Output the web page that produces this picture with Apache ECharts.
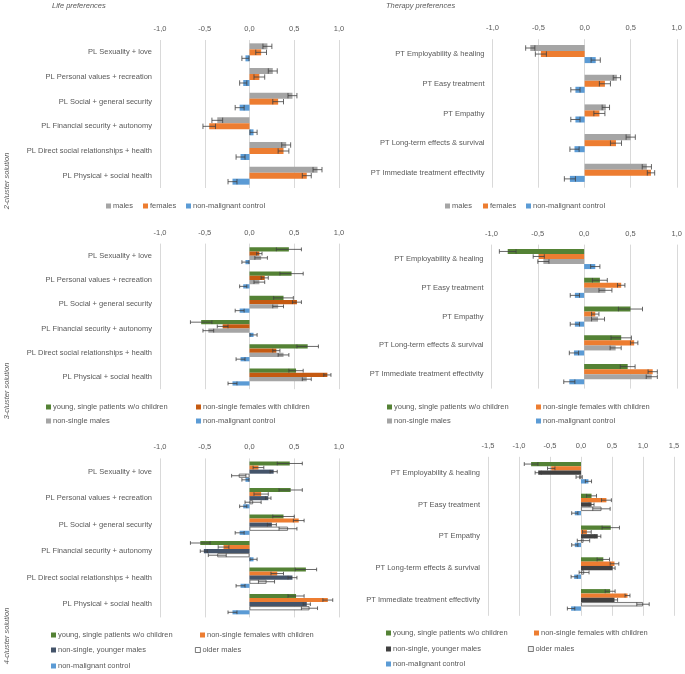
<!DOCTYPE html>
<html>
<head>
<meta charset="utf-8">
<script src="https://cdn.jsdelivr.net/npm/echarts@6/dist/echarts.min.js"></script>
<style>html,body{margin:0;padding:0;background:#fff}#c{width:685px;height:674px}</style>
</head>
<body>
<div id="c"></div>
<script>
// ---------- categories ----------
const lifeCats = ['PL Sexuality + love','PL Personal values + recreation','PL Social + general security','PL Financial security + autonomy','PL Direct social relationships + health','PL Physical + social health'];
const therapyCats = ['PT Employability & healing','PT Easy treatment','PT Empathy','PT Long-term effects & survival','PT Immediate treatment effectivity'];

// ---------- 2-cluster, life ----------
const c2LifeMales = [0.20, 0.26, 0.48, -0.36, 0.41, 0.76];
const c2LifeMalesErr = [0.05, 0.05, 0.05, 0.06, 0.05, 0.05];
const c2LifeFemales = [0.13, 0.11, 0.32, -0.45, 0.38, 0.64];
const c2LifeFemalesErr = [0.06, 0.06, 0.06, 0.07, 0.06, 0.05];
const lifeControl = [-0.045, -0.07, -0.11, 0.045, -0.10, -0.19];
const lifeControlErr = [0.04, 0.04, 0.05, 0.04, 0.05, 0.05];

// ---------- 2-cluster, therapy ----------
const c2TherMales = [-0.59, 0.35, 0.23, 0.50, 0.675];
const c2TherMalesErr = [0.05, 0.04, 0.04, 0.05, 0.05];
const c2TherFemales = [-0.475, 0.22, 0.16, 0.34, 0.72];
const c2TherFemalesErr = [0.06, 0.06, 0.06, 0.06, 0.04];
const therControl = [0.12, -0.10, -0.10, -0.11, -0.16];
const therControlErr = [0.05, 0.05, 0.05, 0.05, 0.06];

// ---------- 3-cluster, life ----------
const c3LifeYoung = [0.44, 0.47, 0.38, -0.54, 0.65, 0.52];
const c3LifeYoungErr = [0.14, 0.13, 0.11, 0.12, 0.12, 0.08];
const c3LifeFem = [0.11, 0.17, 0.53, -0.30, 0.30, 0.87];
const c3LifeFemErr = [0.03, 0.04, 0.05, 0.06, 0.04, 0.04];
const c3LifeMales = [0.13, 0.11, 0.32, -0.46, 0.38, 0.64];
const c3LifeMalesErr = [0.07, 0.06, 0.06, 0.06, 0.06, 0.05];

// ---------- 3-cluster, therapy ----------
const c3TherYoung = [-0.825, 0.17, 0.50, 0.40, 0.47];
const c3TherYoungErr = [0.09, 0.08, 0.13, 0.11, 0.08];
const c3TherFem = [-0.49, 0.40, 0.12, 0.54, 0.74];
const c3TherFemErr = [0.06, 0.04, 0.04, 0.04, 0.05];
const c3TherMales = [-0.44, 0.23, 0.15, 0.34, 0.73];
const c3TherMalesErr = [0.06, 0.07, 0.07, 0.06, 0.06];

// ---------- 4-cluster, life ----------
const c4LifeYoung = [0.45, 0.46, 0.38, -0.55, 0.63, 0.52];
const c4LifeYoungErr = [0.14, 0.13, 0.12, 0.11, 0.12, 0.09];
const c4LifeFem = [0.10, 0.13, 0.55, -0.29, 0.31, 0.875];
const c4LifeFemErr = [0.06, 0.08, 0.06, 0.06, 0.07, 0.055];
const c4LifeYM = [0.27, 0.21, 0.25, -0.51, 0.48, 0.64];
const c4LifeYMErr = [0.04, 0.03, 0.05, 0.04, 0.05, 0.04];
const c4LifeOM = [-0.12, 0.04, 0.43, -0.36, 0.19, 0.67];
const c4LifeOMErr = [0.08, 0.09, 0.10, 0.10, 0.09, 0.09];

// ---------- 4-cluster, therapy ----------
const c4TherYoung = [-0.805, 0.17, 0.48, 0.36, 0.47];
const c4TherYoungErr = [0.11, 0.08, 0.14, 0.10, 0.08];
const c4TherFem = [-0.48, 0.41, 0.095, 0.54, 0.75];
const c4TherFemErr = [0.06, 0.08, 0.07, 0.07, 0.04];
const c4TherYM = [-0.69, 0.17, 0.27, 0.51, 0.54];
const c4TherYMErr = [0.05, 0.04, 0.05, 0.04, 0.05];
const c4TherOM = [-0.03, 0.33, 0.04, 0.05, 1.0];
const c4TherOMErr = [0.05, 0.14, 0.10, 0.08, 0.10];

// ---------- series names ----------
const N_MALES = 'males', N_FEMALES = 'females', N_CTRL = 'non-malignant control';
const N_YOUNG = 'young, single patients w/o children';
const N_FEMCH = 'non-single females with children';
const N_NSM = 'non-single males';
const N_NSYM = 'non-single, younger males';
const N_OM = 'older males';

const FONT = 'Liberation Sans';
const FS = 7.5;
const TXT = '#595959';
const GREEN = '#548235', ORANGE = '#ED7D31', DKORANGE = '#C55A11', GRAY = '#A5A5A5', BLUE = '#5B9BD5', NAVY = '#44546A', DKGRAY = '#404040';

const panels = [
  { cats: lifeCats, min: -1, max: 1, grid: {left: 160, top: 40, width: 179, height: 148}, gap: 0.27,
    groups: [
      {name: N_MALES, v: c2LifeMales, e: c2LifeMalesErr, color: GRAY},
      {name: N_FEMALES, v: c2LifeFemales, e: c2LifeFemalesErr, color: ORANGE},
      {name: N_CTRL, v: lifeControl, e: lifeControlErr, color: BLUE}],
    legend: [[N_MALES, 106, 206], [N_FEMALES, 143, 206], [N_CTRL, 186, 206]] },
  { cats: therapyCats, min: -1, max: 1, grid: {left: 492.5, top: 39.2, width: 185.5, height: 148.5}, gap: 0.39,
    groups: [
      {name: N_MALES, v: c2TherMales, e: c2TherMalesErr, color: GRAY},
      {name: N_FEMALES, v: c2TherFemales, e: c2TherFemalesErr, color: ORANGE},
      {name: N_CTRL, v: therControl, e: therControlErr, color: BLUE}],
    legend: [[N_MALES, 445, 206], [N_FEMALES, 483, 206], [N_CTRL, 526, 206]] },
  { cats: lifeCats, min: -1, max: 1, grid: {left: 160, top: 243.6, width: 179, height: 145.6}, gap: 0.30,
    groups: [
      {name: N_YOUNG, v: c3LifeYoung, e: c3LifeYoungErr, color: GREEN},
      {name: N_FEMCH, v: c3LifeFem, e: c3LifeFemErr, color: DKORANGE},
      {name: N_NSM, v: c3LifeMales, e: c3LifeMalesErr, color: GRAY},
      {name: N_CTRL, v: lifeControl, e: lifeControlErr, color: BLUE}],
    legend: [[N_YOUNG, 46, 407], [N_FEMCH, 196, 407], [N_NSM, 46, 421], [N_CTRL, 196, 421]] },
  { cats: therapyCats, min: -1, max: 1, grid: {left: 491.5, top: 244.6, width: 186, height: 144}, gap: 0.30,
    groups: [
      {name: N_YOUNG, v: c3TherYoung, e: c3TherYoungErr, color: GREEN},
      {name: N_FEMCH, v: c3TherFem, e: c3TherFemErr, color: ORANGE},
      {name: N_NSM, v: c3TherMales, e: c3TherMalesErr, color: GRAY},
      {name: N_CTRL, v: therControl, e: therControlErr, color: BLUE}],
    legend: [[N_YOUNG, 387, 407], [N_FEMCH, 536, 407], [N_NSM, 387, 421], [N_CTRL, 536, 421]] },
  { cats: lifeCats, min: -1, max: 1, grid: {left: 160, top: 458.4, width: 179, height: 159}, gap: 0.23,
    groups: [
      {name: N_YOUNG, v: c4LifeYoung, e: c4LifeYoungErr, color: GREEN},
      {name: N_FEMCH, v: c4LifeFem, e: c4LifeFemErr, color: ORANGE},
      {name: N_NSYM, v: c4LifeYM, e: c4LifeYMErr, color: NAVY},
      {name: N_OM, v: c4LifeOM, e: c4LifeOMErr, color: '#FFFFFF', border: '#595959'},
      {name: N_CTRL, v: lifeControl, e: lifeControlErr, color: BLUE}],
    legend: [[N_YOUNG, 51, 635], [N_FEMCH, 200, 635], [N_NSYM, 51, 650], [N_OM, 195, 650], [N_CTRL, 51, 666]] },
  { cats: therapyCats, min: -1.5, max: 1.5, grid: {left: 488, top: 456.8, width: 186, height: 159}, gap: 0.32,
    groups: [
      {name: N_YOUNG, v: c4TherYoung, e: c4TherYoungErr, color: GREEN},
      {name: N_FEMCH, v: c4TherFem, e: c4TherFemErr, color: ORANGE},
      {name: N_NSYM, v: c4TherYM, e: c4TherYMErr, color: DKGRAY},
      {name: N_OM, v: c4TherOM, e: c4TherOMErr, color: '#F2F2F2', border: '#595959'},
      {name: N_CTRL, v: therControl, e: therControlErr, color: BLUE}],
    legend: [[N_YOUNG, 386, 633], [N_FEMCH, 534, 633], [N_NSYM, 386, 649], [N_OM, 528, 649], [N_CTRL, 386, 664]] }
];

const grids = [], xAxes = [], yAxes = [], series = [], legends = [];
panels.forEach((p, pi) => {
  grids.push(Object.assign({containLabel: false}, p.grid));
  xAxes.push({
    type: 'value', gridIndex: pi, position: 'top', min: p.min, max: p.max, interval: 0.5,
    axisLine: {show: false}, axisTick: {show: false},
    splitLine: {show: true, lineStyle: {color: '#D9D9D9', width: 1}},
    axisLabel: {show: true, showMinLabel: true, showMaxLabel: true, margin: 7, fontSize: FS, fontFamily: FONT, color: TXT,
      formatter: v => v.toFixed(1).replace('.', ',')}
  });
  yAxes.push({
    type: 'category', gridIndex: pi, inverse: true, data: p.cats,
    axisLine: {show: false}, axisTick: {show: false}, splitLine: {show: false},
    axisLabel: {margin: 8, fontSize: FS, fontFamily: FONT, color: TXT}
  });
  const n = p.groups.length;
  const gap = p.gap;
  p.groups.forEach((g, k) => {
    series.push({
      type: 'bar', name: g.name, xAxisIndex: pi, yAxisIndex: pi,
      barGap: '0%', barCategoryGap: (gap * 100) + '%',
      data: g.v,
      itemStyle: {color: g.color, borderColor: g.border || g.color, borderWidth: g.border ? 0.8 : 0},
      emphasis: {disabled: true}, animation: false
    });
    series.push({
      type: 'custom', name: g.name + ' error', xAxisIndex: pi, yAxisIndex: pi, z: 5, silent: true, animation: false,
      data: g.v.map((v, i) => [v, i, g.e[i]]),
      renderItem: (params, api) => {
        const v = api.value(0), c = api.value(1), e = api.value(2);
        const band = api.size([0, 1])[1];
        const total = band * (1 - gap);
        const w = total / n;
        const base = api.coord([0, c]);
        const yc = base[1] - total / 2 + (k + 0.5) * w;
        const x1 = api.coord([v - e, c])[0], x2 = api.coord([v + e, c])[0];
        const h = w * 0.45;
        const st = {stroke: '#404040', lineWidth: 0.8, fill: null};
        return {type: 'group', children: [
          {type: 'line', shape: {x1: x1, y1: yc, x2: x2, y2: yc}, style: st},
          {type: 'line', shape: {x1: x1, y1: yc - h, x2: x1, y2: yc + h}, style: st},
          {type: 'line', shape: {x1: x2, y1: yc - h, x2: x2, y2: yc + h}, style: st}
        ]};
      }
    });
  });
  p.legend.forEach(([name, lx, ly]) => {
    const g = p.groups.find(gg => gg.name === name);
    legends.push({
      left: lx, top: ly - 4, padding: 0, icon: 'rect', itemWidth: 5, itemHeight: 5, selectedMode: false,
      data: [{name: name, itemStyle: {color: g.color, borderColor: g.border || g.color, borderWidth: g.border ? 0.8 : 0}}],
      textStyle: {fontSize: FS, fontFamily: FONT, color: TXT, padding: [0, 0, 0, -3]}
    });
  });
});

const chart = echarts.init(document.getElementById('c'), null, {renderer: 'canvas'});
chart.setOption({
  animation: false,
  backgroundColor: '#ffffff',
  grid: grids, xAxis: xAxes, yAxis: yAxes, series: series, legend: legends,
  graphic: [
    {type: 'text', left: 52, top: 2, style: {text: 'Life preferences', fontSize: FS, fontStyle: 'italic', fontFamily: FONT, fill: TXT}},
    {type: 'text', left: 386, top: 2, style: {text: 'Therapy preferences', fontSize: FS, fontStyle: 'italic', fontFamily: FONT, fill: TXT}},
    {type: 'text', x: 7, y: 181, rotation: Math.PI / 2, style: {text: '2-cluster solution', fontSize: FS, fontStyle: 'italic', fontFamily: FONT, fill: TXT, align: 'center', verticalAlign: 'middle'}},
    {type: 'text', x: 7, y: 391, rotation: Math.PI / 2, style: {text: '3-cluster solution', fontSize: FS, fontStyle: 'italic', fontFamily: FONT, fill: TXT, align: 'center', verticalAlign: 'middle'}},
    {type: 'text', x: 7, y: 636, rotation: Math.PI / 2, style: {text: '4-cluster solution', fontSize: FS, fontStyle: 'italic', fontFamily: FONT, fill: TXT, align: 'center', verticalAlign: 'middle'}}
  ]
});
</script>
</body>
</html>
